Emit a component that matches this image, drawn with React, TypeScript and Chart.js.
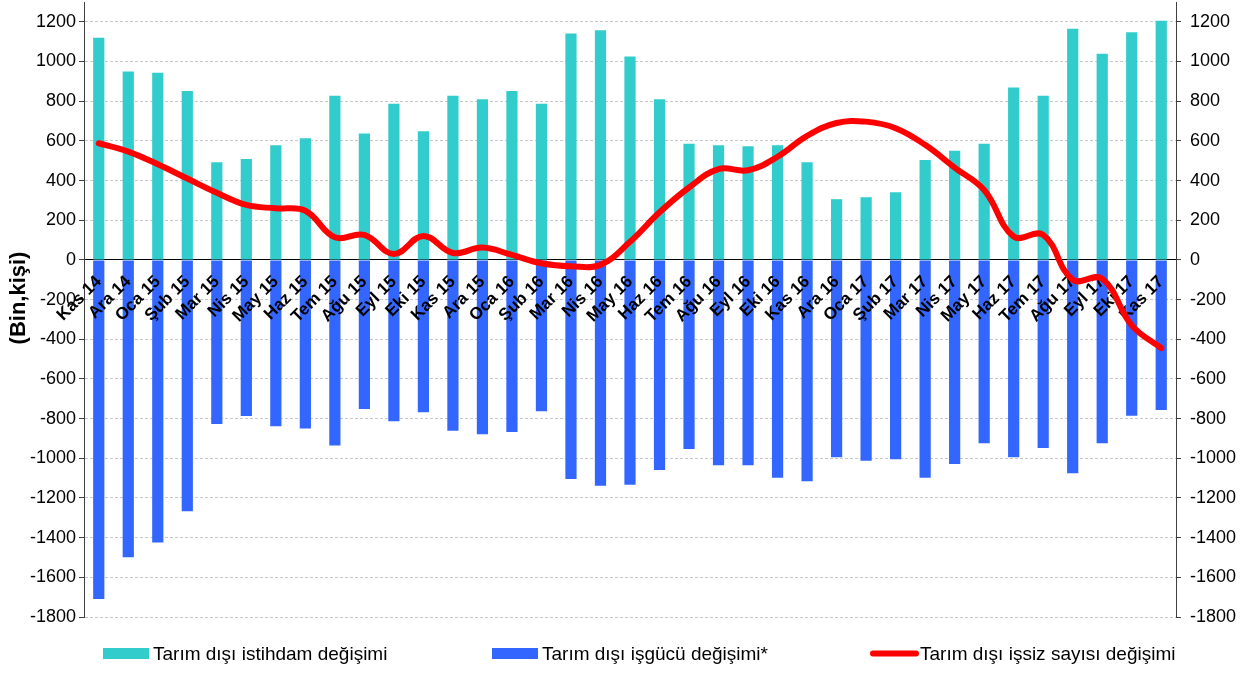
import React, { useEffect, useRef } from 'react';
import { Chart, registerables } from 'chart.js';

Chart.register(...registerables);

const categories = [
  'Kas 14', 'Ara 14', 'Oca 15', 'Şub 15', 'Mar 15', 'Nis 15', 'May 15', 'Haz 15', 'Tem 15', 'Ağu 15',
  'Eyl 15', 'Eki 15', 'Kas 15', 'Ara 15', 'Oca 16', 'Şub 16', 'Mar 16', 'Nis 16', 'May 16', 'Haz 16',
  'Tem 16', 'Ağu 16', 'Eyl 16', 'Eki 16', 'Kas 16', 'Ara 16', 'Oca 17', 'Şub 17', 'Mar 17', 'Nis 17',
  'May 17', 'Haz 17', 'Tem 17', 'Ağu 17', 'Eyl 17', 'Eki 17', 'Kas 17',
];

const istihdam = [
  1120, 950, 944, 852, 492, 508, 578, 613, 828, 637,
  787, 649, 828, 810, 852, 787, 1141, 1158, 1025, 810,
  585, 578, 573, 578, 492, 306, 316, 341, 503, 550,
  585, 869, 828, 1165, 1039, 1148, 1205,
];

const isgucu = [
  -1709, -1499, -1425, -1267, -827, -787, -839, -850, -936, -751,
  -813, -768, -861, -879, -867, -763, -1104, -1139, -1134, -1059,
  -953, -1035, -1035, -1098, -1116, -995, -1012, -1005, -1098, -1029,
  -924, -995, -948, -1076, -924, -785, -756,
];

const issiz = [
  588, 546, 482, 410, 338, 277, 260, 248, 114, 126,
  30, 121, 35, 62, 25, -17, -32, -25, 91, 240,
  365, 458, 452, 520, 625, 690, 697, 664, 580, 465,
  352, 118, 126, -100, -95, -330, -445,
];

const yTickValues = [-1800, -1600, -1400, -1200, -1000, -800, -600, -400, -200, 0, 200, 400, 600, 800, 1000, 1200];

const seriesLabels = ['Tarım dışı istihdam değişimi', 'Tarım dışı işgücü değişimi*', 'Tarım dışı işsiz sayısı değişimi'];
const yTitle = '(Bin,kişi)';

const FONT = '"Liberation Sans", Arial, Helvetica, sans-serif';
const COLORS = ['#33CCCC', '#3366FF', '#FF0000'];

let labelPass = false;

const overlayPlugin = {
  id: 'overlay',
  beforeDatasetDraw(chart: any, args: any) {
    // draw category labels above the bars but below the line
    if (args.index !== 0) return;
    const sx = chart.scales.x;
    sx._labelItems = null;
    labelPass = true;
    sx.drawLabels(chart.chartArea);
    labelPass = false;
    sx._labelItems = null;
  },
  afterDraw(chart: any) {
    const ctx = chart.ctx as CanvasRenderingContext2D;
    ctx.save();
    ctx.translate(19, 298);
    ctx.rotate(-Math.PI / 2);
    ctx.font = `bold 22px ${FONT}`;
    ctx.fillStyle = '#000';
    ctx.textAlign = 'center';
    ctx.textBaseline = 'middle';
    ctx.fillText(yTitle, 0, 0);
    ctx.restore();

    const xs = [103, 492, 870];
    const cy = 653.5;
    ctx.save();
    ctx.font = `19px ${FONT}`;
    ctx.textBaseline = 'middle';
    ctx.textAlign = 'left';
    seriesLabels.forEach((label, i) => {
      const x = xs[i];
      if (i < 2) {
        ctx.fillStyle = COLORS[i];
        ctx.fillRect(x, cy - 5.5, 46, 11);
      } else {
        ctx.strokeStyle = COLORS[i];
        ctx.lineWidth = 6;
        ctx.lineCap = 'round';
        ctx.beginPath();
        ctx.moveTo(x + 3, cy);
        ctx.lineTo(x + 46, cy);
        ctx.stroke();
      }
      ctx.fillStyle = '#000';
      ctx.fillText(label, x + 50, cy + 1);
    });
    ctx.restore();
  },
};

export default function App() {
  const ref = useRef<HTMLCanvasElement | null>(null);

  useEffect(() => {
    if (!ref.current) return;
    const yTicksCb = (s: any) => {
      s.ticks = yTickValues.map((v) => ({ value: v }));
    };
    const fmt = (v: any) => String(v);
    const chart = new Chart(ref.current, {
      type: 'bar',
      data: {
        labels: categories,
        datasets: [
          {
            type: 'line',
            label: seriesLabels[2],
            data: issiz,
            yAxisID: 'y1',
            borderColor: COLORS[2],
            backgroundColor: COLORS[2],
            borderWidth: 6,
            pointRadius: 0,
            tension: 0.4,
            fill: false,
            order: 0,
            borderCapStyle: 'round',
            borderJoinStyle: 'round',
          } as any,
          {
            type: 'bar',
            label: seriesLabels[0],
            data: istihdam,
            yAxisID: 'y',
            backgroundColor: COLORS[0],
            barPercentage: 0.38,
            categoryPercentage: 1,
            order: 1,
          },
          {
            type: 'bar',
            label: seriesLabels[1],
            data: isgucu,
            yAxisID: 'y',
            backgroundColor: COLORS[1],
            barPercentage: 0.38,
            categoryPercentage: 1,
            order: 1,
          },
        ],
      },
      options: {
        responsive: false,
        animation: false,
        layout: { padding: { left: 0, right: 0, top: 2, bottom: 57 } },
        plugins: { legend: { display: false }, tooltip: { enabled: false } },
        scales: {
          x: {
            type: 'category',
            stacked: true,
            position: { y: 0 } as any,
            offset: true,
            grid: { display: false },
            border: { display: true, color: '#000', width: 1 },
            ticks: {
              autoSkip: false,
              minRotation: 45,
              maxRotation: 45,
              padding: 4,
              color: () => (labelPass ? '#000' : 'rgba(0,0,0,0)'),
              font: { family: FONT, size: 17, weight: 'bold' },
            },
            afterFit: (s: any) => {
              s.paddingLeft = 0;
              s.paddingRight = 0;
            },
          },
          y: {
            type: 'linear',
            stacked: true,
            position: 'left',
            min: -1800,
            max: 1300,
            afterBuildTicks: yTicksCb,
            afterFit: (s: any) => {
              s.width = 84;
              s.paddingTop = 0;
              s.paddingBottom = 0;
            },
            grid: { color: '#c8c8c8', lineWidth: 1, tickLength: 5, tickColor: '#404040', tickBorderDash: [] } as any,
            border: { display: true, color: '#404040', width: 1, dash: [3, 2] },
            ticks: { color: '#000', padding: 3, font: { family: FONT, size: 18 }, callback: fmt },
          },
          y1: {
            type: 'linear',
            position: 'right',
            min: -1800,
            max: 1300,
            afterBuildTicks: yTicksCb,
            afterFit: (s: any) => {
              s.width = 80;
              s.paddingTop = 0;
              s.paddingBottom = 0;
            },
            grid: { drawOnChartArea: false, tickLength: 5, color: '#404040', tickColor: '#404040' },
            border: { display: true, color: '#404040', width: 1 },
            ticks: { color: '#000', padding: 9, font: { family: FONT, size: 18 }, callback: fmt },
          },
        },
      },
      plugins: [overlayPlugin],
    });
    return () => chart.destroy();
  }, []);

  return (
    <div style={{ position: 'absolute', left: 0, top: 0, width: 1256, height: 674, background: '#fff' }}>
      <canvas ref={ref} width={1256} height={674} style={{ display: 'block', width: 1256, height: 674 }} />
    </div>
  );
}
